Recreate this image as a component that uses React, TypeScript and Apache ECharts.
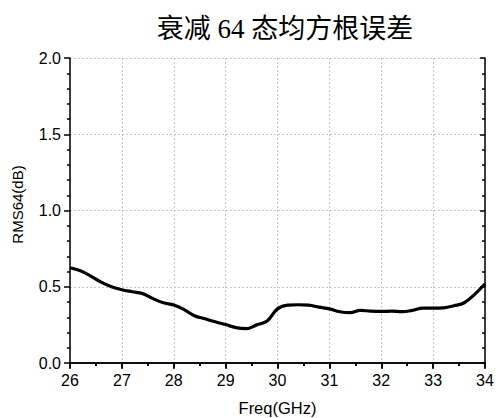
import React, { useEffect, useRef } from "react";
import * as echarts from "echarts";

const titleText = "衰减 64 态均方根误差";
const xName = "Freq(GHz)";
const yName = "RMS64(dB)";
const freqs = [26, 26.2, 26.4, 26.6, 26.8, 27, 27.2, 27.4, 27.6, 27.8, 28, 28.2, 28.4, 28.6, 28.8, 29, 29.2, 29.4, 29.6, 29.8, 30, 30.2, 30.4, 30.6, 30.8, 31, 31.2, 31.4, 31.6, 31.8, 32, 32.2, 32.4, 32.6, 32.8, 33, 33.2, 33.4, 33.6, 33.8, 34];
const rms = [0.625, 0.605, 0.57, 0.53, 0.5, 0.48, 0.467, 0.455, 0.422, 0.395, 0.38, 0.35, 0.31, 0.29, 0.27, 0.252, 0.232, 0.225, 0.25, 0.275, 0.355, 0.38, 0.382, 0.38, 0.366, 0.355, 0.336, 0.33, 0.345, 0.34, 0.338, 0.34, 0.337, 0.345, 0.36, 0.36, 0.362, 0.375, 0.395, 0.45, 0.52];

const FONT = "'Liberation Sans', Arial, sans-serif";

export default function App() {
  const ref = useRef<HTMLDivElement>(null);
  useEffect(() => {
    if (!ref.current) return;
    const chart = echarts.init(ref.current, null, { renderer: "svg" });
    const axisLine = { show: true, lineStyle: { color: "#000", width: 1.5 } };
    const split = { show: true, lineStyle: { color: "#c8c8c8", type: [2, 2] as any, width: 1 } };
    chart.setOption({
      animation: false,
      backgroundColor: "#fff",
      title: {
        text: titleText,
        left: 280,
        textAlign: "center",
        top: 10,
        textStyle: {
          fontFamily: "'Liberation Serif', 'Noto Sans CJK SC', serif",
          fontSize: 27,
          fontWeight: "normal",
          color: "#000",
        },
      },
      grid: { left: 70, right: 11, top: 58, bottom: 55, containLabel: false, outerBoundsMode: "none" },
      xAxis: [
        {
          type: "value",
          min: 26,
          max: 34,
          interval: 1,
          position: "bottom",
          name: xName,
          nameLocation: "middle",
          nameGap: 36,
          nameTextStyle: { fontFamily: FONT, fontSize: 16.5, color: "#000" },
          axisLine,
          axisTick: { show: true, inside: false, length: 6, lineStyle: { color: "#000", width: 1.5 } },
          minorTick: { show: true, splitNumber: 2, length: 3, lineStyle: { color: "#000", width: 1.5 } },
          axisLabel: { fontFamily: FONT, fontSize: 16, color: "#000", margin: 9 },
          splitLine: split,
        },
        {
          type: "value",
          min: 26,
          max: 34,
          interval: 1,
          position: "top",
          axisLine,
          axisTick: { show: true, inside: true, length: 5, lineStyle: { color: "#000", width: 1.5 } },
          minorTick: { show: true, splitNumber: 2, length: 3, lineStyle: { color: "#000", width: 1.5 } },
          axisLabel: { show: false },
          splitLine: { show: false },
        },
      ],
      yAxis: [
        {
          type: "value",
          min: 0,
          max: 2,
          interval: 0.5,
          position: "left",
          name: yName,
          nameLocation: "middle",
          nameGap: 45,
          nameTextStyle: { fontFamily: FONT, fontSize: 15, color: "#000", padding: [0, 0, 0, 12] },
          axisLine,
          axisTick: { show: true, inside: false, length: 6, lineStyle: { color: "#000", width: 1.5 } },
          minorTick: { show: true, splitNumber: 5, length: 3, lineStyle: { color: "#000", width: 1.5 } },
          axisLabel: { fontFamily: FONT, fontSize: 16, color: "#000", margin: 9, formatter: (v: number) => v.toFixed(1) },
          splitLine: split,
        },
        {
          type: "value",
          min: 0,
          max: 2,
          interval: 0.5,
          position: "right",
          axisLine,
          axisTick: { show: true, inside: true, length: 5, lineStyle: { color: "#000", width: 1.5 } },
          minorTick: { show: true, splitNumber: 5, length: 3, lineStyle: { color: "#000", width: 1.5 } },
          axisLabel: { show: false },
          splitLine: { show: false },
        },
      ],
      series: [
        {
          type: "line",
          data: freqs.map((f, i) => [f, rms[i]]),
          smooth: 0.4,
          showSymbol: false,
          symbol: "none",
          lineStyle: { color: "#000", width: 3.2 },
          z: 5,
        },
      ],
    });
    return () => chart.dispose();
  }, []);
  return <div ref={ref} style={{ width: 496, height: 418, position: "absolute", left: 0, top: 0 }} />;
}
